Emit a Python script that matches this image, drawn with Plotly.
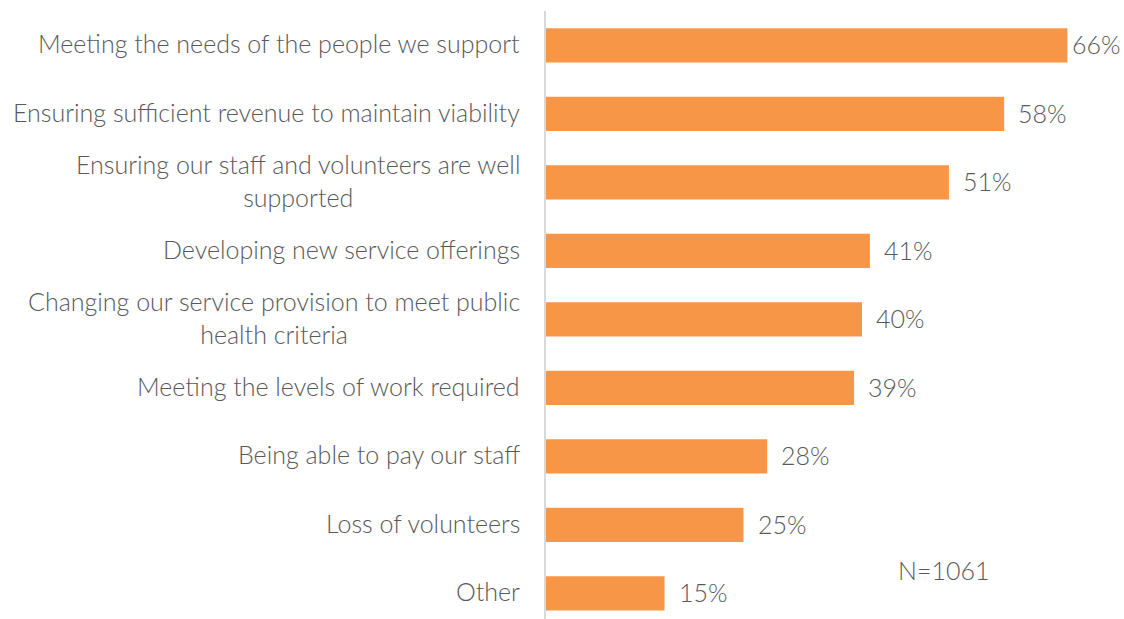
import plotly.graph_objects as go

# Survey responses: main challenges (share of respondents)
categories = [
    "Meeting the needs of the people we support",
    "Ensuring sufficient revenue to maintain viability",
    "Ensuring our staff and volunteers are well<br>supported",
    "Developing new service offerings",
    "Changing our service provision to meet public<br>health criteria",
    "Meeting the levels of work required",
    "Being able to pay our staff",
    "Loss of volunteers",
    "Other",
]
values = [66, 58, 51, 41, 40, 39, 28, 25, 15]
sample_note = "N=1061"

W, H = 1124, 619
LEFT, TOP = 546, 11
PX_PER_PCT = 7.9
ROW_PX = 68.5
FONT = "Lato"
SIZE = 25
WEIGHT = 300
GREY = "#595959"
BAR = "#F79646"

plot_w = W - LEFT
plot_h = H - TOP
x_max = plot_w / PX_PER_PCT
y_bottom = plot_h / ROW_PX - 0.5

pos = list(range(len(categories)))
label_font = dict(family=FONT, size=SIZE, color=GREY, weight=WEIGHT)

fig = go.Figure(
    go.Bar(
        x=values,
        y=pos,
        orientation="h",
        marker=dict(color=BAR, line=dict(width=0)),
        width=0.5,
        hoverinfo="skip",
    )
)

annotations = []
# category names, right-aligned against the axis, wrapped lines centred
for p, cat in zip(pos, categories):
    annotations.append(dict(
        x=0, y=p, xref="paper", yref="y", text=cat, showarrow=False,
        xanchor="right", yanchor="middle", align="center", xshift=-24,
        yshift=2, font=label_font,
    ))
# value labels just past each bar end (pulled in when near the edge)
for p, v in zip(pos, values):
    room = (x_max - v) * PX_PER_PCT - 55
    shift = max(3, min(12, room))
    annotations.append(dict(
        x=v, y=p, xref="x", yref="y", text=f"{v}%", showarrow=False,
        xanchor="left", yanchor="middle", xshift=shift, yshift=1,
        font=label_font,
    ))
# sample size note
annotations.append(dict(
    x=(896 - LEFT) / plot_w, y=1 - (570 - TOP) / plot_h,
    xref="paper", yref="paper", text=sample_note, showarrow=False,
    xanchor="left", yanchor="middle", font=label_font,
))

fig.update_layout(
    width=W, height=H,
    margin=dict(l=LEFT, r=0, t=TOP, b=0, pad=0),
    paper_bgcolor="white", plot_bgcolor="white",
    showlegend=False,
    xaxis=dict(range=[0, x_max], visible=False, fixedrange=True),
    yaxis=dict(
        range=[y_bottom, -0.5], showticklabels=False, showgrid=False,
        zeroline=False, ticks="", showline=True, linecolor="#D9D9D9",
        linewidth=2, fixedrange=True,
    ),
    annotations=annotations,
    font=dict(family=FONT, color=GREY),
)

fig.write_html("out.html", config={"displayModeBar": False})
